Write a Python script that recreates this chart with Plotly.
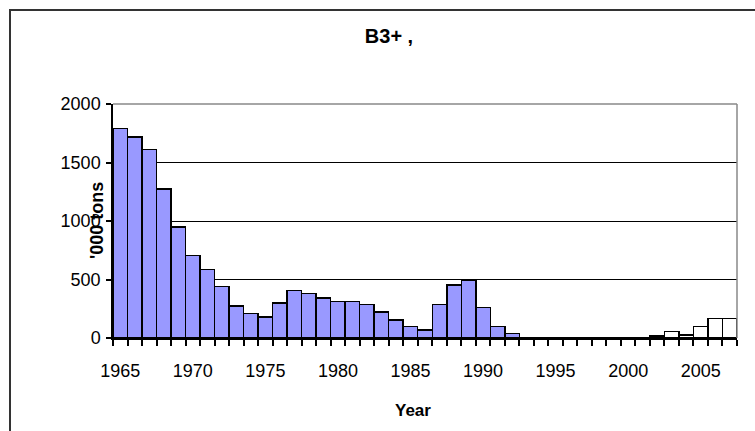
import plotly.graph_objects as go

years = list(range(1965, 2008))
blue_values = [1790, 1720, 1610, 1275, 950, 705, 585, 440, 275, 210, 178, 300, 408, 380, 342, 313, 313, 288, 222, 154, 100, 70, 288, 452, 490, 262, 100, 37,
               5, 5, 5, 5, 5, 5, 5, 5, 5, 0, 0, 0, 0, 0, 0]
white_values = [0] * 37 + [18, 55, 25, 100, 165, 165]
tick_years = [1965, 1970, 1975, 1980, 1985, 1990, 1995, 2000, 2005]
y_ticks = [0, 500, 1000, 1500, 2000]

W, H = 755, 431
L, R, T, B = 113, 18, 104, 93
PW, PH = W - L - R, H - T - B

fig = go.Figure()
fig.add_trace(go.Bar(x=years, y=blue_values, width=1,
                     marker=dict(color="#9999FF", line=dict(color="black", width=1.5))))
fig.add_trace(go.Bar(x=years, y=white_values, width=1,
                     marker=dict(color="white", line=dict(color="black", width=1.5))))

fig.update_layout(
    barmode="stack",
    width=W, height=H,
    margin=dict(l=L, r=R, t=T, b=B),
    paper_bgcolor="white", plot_bgcolor="white",
    showlegend=False,
    font=dict(family="Liberation Sans, Arial, sans-serif", color="black"),
    title=dict(text="<b>B3+ ,</b>", x=389 / W, xanchor="center", y=1 - 36 / H, yanchor="middle",
               font=dict(size=20, color="black")),
    xaxis=dict(range=[1964.5, 2007.5], tickvals=tick_years, ticktext=[str(t) for t in tick_years],
               ticks="", showgrid=False, showline=True, linecolor="black", linewidth=1.5,
               tickfont=dict(size=18), ticklabelstandoff=16,
               minor=dict(tick0=1964.5, dtick=1, ticks="outside", ticklen=6, tickcolor="black",
                          tickwidth=1.5, showgrid=False)),
    yaxis=dict(range=[0, 2000], tickvals=y_ticks, ticks="outside", ticklen=5, tickcolor="black",
               tickwidth=1.5, showgrid=True, gridcolor="black", gridwidth=1,
               showline=True, linecolor="black", linewidth=1.5, tickfont=dict(size=18),
               zeroline=False, ticklabelstandoff=2),
    shapes=[
        dict(type="line", xref="paper", yref="paper", x0=0, x1=1, y0=1, y1=1,
             line=dict(color="#888888", width=1.5)),
        dict(type="line", xref="paper", yref="paper", x0=1, x1=1, y0=0, y1=1,
             line=dict(color="#888888", width=1.5)),
        dict(type="rect", xref="paper", yref="paper",
             x0=(10 - L) / PW, x1=(W + 20 - L) / PW, y0=(H - B - 10) / PH, y1=-(B + 20) / PH,
             line=dict(color="#333333", width=2), layer="below"),
    ],
    annotations=[
        dict(text="<b>'000 tons</b>", xref="paper", yref="paper", x=(97 - L) / PW, y=0.5,
             textangle=-90, showarrow=False, font=dict(size=18), xanchor="center", yanchor="middle"),
        dict(text="<b>Year</b>", xref="paper", yref="paper", x=(413 - L) / PW, y=-(410 - (H - B)) / PH,
             showarrow=False, font=dict(size=17), xanchor="center", yanchor="middle"),
    ],
)

fig.write_html("out.html", config={"displayModeBar": False},
               post_script="document.body.style.margin='0px';")
